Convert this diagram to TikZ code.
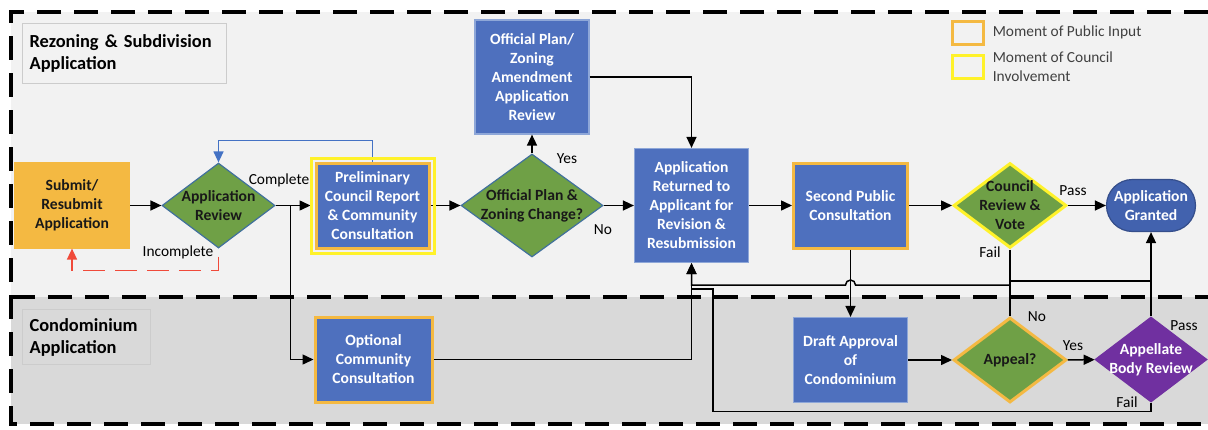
\documentclass[tikz,border=0pt]{standalone}
\usepackage{fontspec}
\setmainfont{Carlito}
\usetikzlibrary{arrows.meta,positioning,shapes.geometric}
\definecolor{zonetop}{HTML}{F2F2F2}
\definecolor{zonebot}{HTML}{D9D9D9}
\definecolor{stepblue}{HTML}{4E70BE}
\definecolor{stepedge}{HTML}{8EA7D8}
\definecolor{decgreen}{HTML}{6FA046}
\definecolor{decedge}{HTML}{41719C}
\definecolor{pubinput}{HTML}{F4B942}
\definecolor{councilin}{HTML}{FFF22A}
\definecolor{appealpurple}{HTML}{7030A0}
\definecolor{grantblue}{HTML}{4262AE}
\definecolor{loopblue}{HTML}{4472C4}
\definecolor{loopred}{HTML}{F04A3A}
\newcommand\boxfont{\fontsize{7.8}{9.5}\selectfont\bfseries}
\newcommand\tagfont{\fontsize{7.7}{9.5}\selectfont}
\newcommand\titlefont{\fontsize{9.2}{11}\selectfont\bfseries}
\tikzset{zone/.style={dash pattern=on 12pt off 6.5pt,line width=1.8pt},zonetitle/.style={draw=black!20,line width=0.6pt,fill=zonetop,font=\titlefont,align=left,text width=95pt,minimum height=30pt,inner sep=3.5pt,anchor=north west},stepbox/.style={rectangle,draw=stepedge,line width=0.6pt,fill=stepblue,text=white,minimum width=57pt,minimum height=42.5pt,align=center,inner sep=1pt,font=\boxfont},public/.style={draw=pubinput,line width=1.5pt},decision/.style={diamond,draw=decedge,line width=0.6pt,fill=decgreen,text=black!90,minimum width=56.5pt,minimum height=42.5pt,inner sep=-4pt,align=center,font=\boxfont},edge/.style={-{Triangle[length=5.5pt,width=5pt]},line width=0.75pt},link/.style={line width=0.75pt},tag/.style={font=\tagfont,inner sep=0pt}}

\begin{document}
\begin{tikzpicture}[x=0.5pt,y=-0.5pt]
\useasboundingbox (0,0) rectangle (1208,429);
% zones
\fill[zonetop] (11,12) rectangle (1208,297);
\fill[zonebot] (11,297) rectangle (1208,424);
\draw[zone] (1208,12) -- (11,12) -- (11,424) -- (1208,424);
\draw[zone] (11,297) -- (1208,297);
\node[zonetitle] (rezTitle) at (22,23) {Rezoning \& Subdivision\\Application};
\node[zonetitle,fill=zonebot,text width=57pt,minimum height=27.5pt] (condoTitle) at (22,309) {Condominium\\Application};
% legend
\node[draw=pubinput,line width=1.5pt,minimum width=15.5pt,minimum height=11.5pt,inner sep=0pt] (keyPublic) at (968,32.5) {};
\node[tag,text=black!75,right=3.7pt of keyPublic] (keyPublicText) {Moment of Public Input};
\node[draw=councilin,line width=1.5pt,minimum width=15.5pt,minimum height=11.5pt,inner sep=0pt] (keyCouncil) at (968,67) {};
\node[tag,text=black!75,align=left,right=3.7pt of keyCouncil] (keyCouncilText) {Moment of Council\\Involvement};
% rezoning row
\node[stepbox,fill=pubinput,draw=pubinput,text=black!90,minimum width=57.5pt] (submit) at (72,205.5) {Submit/\\Resubmit\\Application};
\node[decision] (review) at (218.5,205.5) {Application\\Review};
\node[stepbox,public,minimum width=56.5pt] (prelim) at (372.5,205.5) {Preliminary\\Council Report\\\& Community\\Consultation};
\node[decision,minimum width=71pt,minimum height=51.5pt] (zonechg) at (532,205.5) {Official Plan \&\\Zoning Change?};
\node[stepbox,minimum height=57pt] (amend) at (532,77) {Official Plan/\\Zoning\\Amendment\\Application\\Review};
\node[stepbox,minimum height=57pt] (returned) at (691.5,205.5) {Application\\Returned to\\Applicant for\\Revision \&\\Resubmission};
\node[stepbox,public] (second) at (850.5,205.5) {Second Public\\Consultation};
\node[decision,draw=councilin,line width=1.5pt] (vote) at (1010,205.5) {Council\\Review \&\\Vote};
\node[rectangle,rounded corners=13pt,fill=grantblue,draw=grantblue!80!black,line width=0.6pt,text=white,minimum width=44.5pt,minimum height=26pt,align=center,inner sep=1pt,font=\boxfont] (granted) at (1151,205.5) {Application\\Granted};
% condominium row
\node[stepbox,public,minimum width=58.5pt] (optional) at (373.5,359.5) {Optional\\Community\\Consultation};
\node[stepbox] (draft) at (850.5,360) {Draft Approval\\of\\Condominium};
\node[decision,draw=pubinput,line width=1.5pt] (appeal) at (1010,360) {Appeal?};
\node[decision,fill=appealpurple,draw=appealpurple,text=white,minimum width=56pt] (appellate) at (1151,359.5) {Appellate\\Body Review};
\coordinate (split) at (290.5,205.5);
\coordinate (nojoin) at (1010,285);
\coordinate (passjoin) at (1010,281);
\coordinate (failjoin) at (713,289);
% connectors
\draw[edge] (submit) -- (review);\draw[edge,shorten >=2pt] (review) -- (prelim);\draw[edge] (split) |- (optional);
\draw[edge,loopblue,line width=0.6pt] (prelim.north) -- ++(0,-21) -| (review.north);
\draw[edge,loopred,dash pattern=on 11pt off 5pt,dash phase=12pt] (review.south) -- ++(0,22) -| (submit.south);
\draw[edge] (prelim) -- (zonechg);\draw[edge] (zonechg) -- (amend);\draw[edge] (zonechg) -- (returned);\draw[edge] (amend) -| (returned);
\draw[edge] (returned) -- (second);\draw[edge] (second) -- (vote);\draw[edge] (vote) -- (granted);
\draw[edge] (second) -- (draft);\draw[link] (vote) -- (appeal);
\draw[edge] (nojoin) -- (855.5,285) arc[start angle=0,end angle=180,radius=2.5pt] -| (returned.south);
\draw[link] (passjoin) -- (passjoin -| appellate);\draw[edge] (appellate) -- (granted);
\draw[edge] (draft) -- (appeal);\draw[edge] (appeal) -- (appellate);\draw[edge] (optional) -| (returned.south);
\draw[link] (appellate.south) -- ++(0,9) -| (failjoin) -- (failjoin -| returned);
\draw[councilin,line width=1.5pt] ([shift={(-3.5,-3.5)}]prelim.north west) rectangle ([shift={(3.5,3.5)}]prelim.south east);
% branch labels
\node[tag] (tagComplete) at (279,180) {Complete};
\node[tag] (tagIncomplete) at (178,252) {Incomplete};
\node[tag] (tagYes) at (567,159) {Yes};
\node[tag] (tagNo) at (603,230) {No};
\node[tag] (tagPass) at (1073,191) {Pass};
\node[tag] (tagFail) at (990,252) {Fail};
\node[tag] (tagAppealNo) at (1037,317) {No};
\node[tag] (tagAppealYes) at (1073,346) {Yes};
\node[tag] (tagBodyPass) at (1184,326) {Pass};
\node[tag] (tagBodyFail) at (1127,402) {Fail};
\end{tikzpicture}
\end{document}
